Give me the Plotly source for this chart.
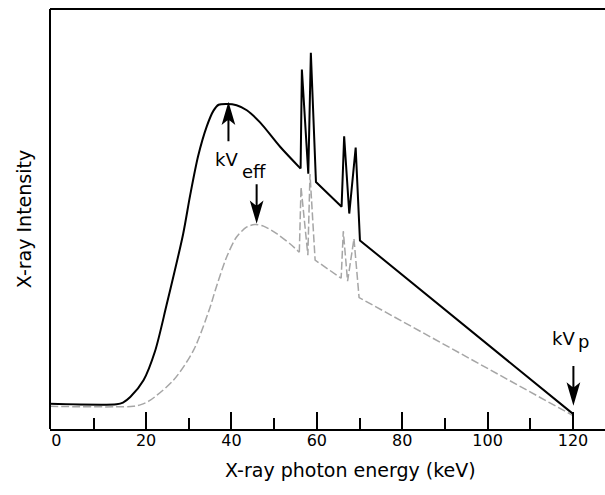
import plotly.graph_objects as go

# ---- data ----
energy_total = [-2.5, 13.1, 14.6, 16.3, 19.4, 22.1, 24.8, 28.7, 30.3, 32.2, 34.2, 35.8,
                37.0, 38.9, 41.2, 43.6, 46.7, 51.4, 56.2, 56.5, 58.0, 58.6, 59.8, 65.8,
                66.4, 67.6, 69.1, 70.1, 120.0]
intensity_total = [6.0, 5.9, 6.3, 7.6, 11.6, 18.5, 29.5, 46.5, 55.5, 65.0, 72.0, 75.8,
                   77.2, 77.4, 77.1, 75.9, 73.0, 67.2, 62.0, 85.6, 60.8, 89.6, 58.8, 52.9,
                   69.7, 51.3, 67.0, 44.9, 3.6]

energy_filtered = [-2.5, 17.0, 18.8, 20.9, 26.4, 31.1, 35.0, 36.2, 38.9, 41.2, 43.6, 45.5,
                   47.5, 50.6, 53.7, 55.9, 56.3, 57.9, 58.4, 59.6, 65.7, 66.2, 67.2, 68.7,
                   69.9, 120.0]
intensity_filtered = [5.4, 5.4, 5.8, 6.8, 11.6, 18.7, 29.0, 33.0, 41.0, 45.7, 48.1, 48.7,
                      48.3, 46.5, 44.1, 42.1, 57.6, 41.4, 60.7, 40.2, 35.9, 47.1, 35.2, 45.3,
                      31.3, 3.2]

# index where the smooth continuum ends and the characteristic spikes begin
SPLIT_TOTAL = 18
SPLIT_FILTERED = 15

major_ticks = [20, 40, 60, 80, 100, 120]
minor_ticks = [7.7, 30, 50, 70, 90, 110]
label_vals = [-1.0, 20, 40, 60, 80, 100, 120]
label_text = ["0", "20", "40", "60", "80", "100", "120"]

# annotation arrow tips (keV, intensity) and direction
arrows = [(39.3, 77.1, "up"), (45.9, 49.7, "down"), (120.1, 6.4, "down")]

FONT = "DejaVu Sans"
GRAY = "#a6a6a6"
XR = [-2.5, 127.5]
W, H = 605, 495
M = dict(l=50, r=0, t=9, b=66)

fig = go.Figure()
gray_line = dict(color=GRAY, width=1.5, dash="8px,3px")
fig.add_trace(go.Scatter(x=energy_filtered[:SPLIT_FILTERED + 1],
                         y=intensity_filtered[:SPLIT_FILTERED + 1], mode="lines",
                         xaxis="x2", line=dict(shape="spline", smoothing=0.8, **gray_line),
                         hoverinfo="skip", showlegend=False))
fig.add_trace(go.Scatter(x=energy_filtered[SPLIT_FILTERED:],
                         y=intensity_filtered[SPLIT_FILTERED:], mode="lines",
                         xaxis="x2", line=gray_line,
                         hoverinfo="skip", showlegend=False))
fig.add_trace(go.Scatter(x=energy_total[:SPLIT_TOTAL + 1], y=intensity_total[:SPLIT_TOTAL + 1],
                         mode="lines",
                         line=dict(color="black", width=2, shape="spline", smoothing=0.8),
                         hoverinfo="skip", showlegend=False))
fig.add_trace(go.Scatter(x=energy_total[SPLIT_TOTAL:], y=intensity_total[SPLIT_TOTAL:],
                         mode="lines", line=dict(color="black", width=2),
                         hoverinfo="skip", showlegend=False))

shapes = []
for ax_, ay_, d in arrows:
    s = 1 if d == "up" else -1
    path = (f"M0,0 L-5,{-17*s} L0,{-13*s} L5,{-17*s} Z "
            f"M0,{-13*s} L0,{-36*s}")
    shapes.append(dict(type="path", xref="x", yref="y", xsizemode="pixel",
                       ysizemode="pixel", xanchor=ax_, yanchor=ay_, path=path,
                       fillcolor="black", line=dict(color="black", width=2)))
# frame: top and left lines; the right side is open (cropped in the original)
shapes.append(dict(type="line", xref="paper", yref="paper", x0=0, x1=1, y0=1, y1=1,
                   line=dict(color="black", width=2)))
shapes.append(dict(type="line", xref="paper", yref="paper", x0=0, x1=0, y0=0, y1=1,
                   line=dict(color="black", width=2)))
shapes.append(dict(type="line", xref="paper", yref="paper", x0=1, x1=1, y0=0.003, y1=0.997,
                   line=dict(color="white", width=4), layer="above"))

annots = [
    dict(x=42.0, y=64.2, text="kV", xanchor="right", yanchor="middle"),
    dict(x=42.1, y=61.3, text="eff", xanchor="left", yanchor="middle"),
    dict(x=121.0, y=21.6, text="kV", xanchor="right", yanchor="middle"),
    dict(x=120.6, y=20.9, text="p", xanchor="left", yanchor="middle"),
]
for a in annots:
    a.update(xref="x", yref="y", showarrow=False,
             font=dict(family=FONT, size=18, color="black"))
# x-axis title at its position in the original (whose plot extends past the crop)
plot_w = W - M["l"] - M["r"]
plot_h = H - M["t"] - M["b"]
annots.append(dict(xref="paper", yref="paper", x=(350 - M["l"]) / plot_w,
                   y=(H - M["b"] - 470) / plot_h, xanchor="center", yanchor="middle",
                   text="X-ray photon energy (keV)", showarrow=False,
                   font=dict(family=FONT, size=19, color="black")))

fig.update_layout(
    width=W, height=H, margin=M,
    paper_bgcolor="white", plot_bgcolor="white",
    shapes=shapes, annotations=annots,
    xaxis=dict(range=XR, showline=True, linecolor="black", linewidth=2,
               ticks="inside", tickmode="array", tickvals=major_ticks,
               ticklen=17, tickwidth=2, tickcolor="black", showticklabels=False,
               showgrid=False, zeroline=False,
               minor=dict(tickmode="array", tickvals=minor_ticks, ticks="inside",
                          ticklen=11, tickwidth=2, tickcolor="black", showgrid=False)),
    xaxis2=dict(range=XR, overlaying="x", anchor="y", side="bottom",
                showline=False, ticks="", tickmode="array", tickvals=label_vals,
                ticktext=label_text, showgrid=False, zeroline=False,
                tickfont=dict(family=FONT, size=16, color="black")),
    yaxis=dict(range=[0, 100], showline=False,
               ticks="", showticklabels=False, showgrid=False, zeroline=False,
               title=dict(text="X-ray Intensity", standoff=12,
                          font=dict(family=FONT, size=19, color="black"))),
)

fig.write_html("out.html")
